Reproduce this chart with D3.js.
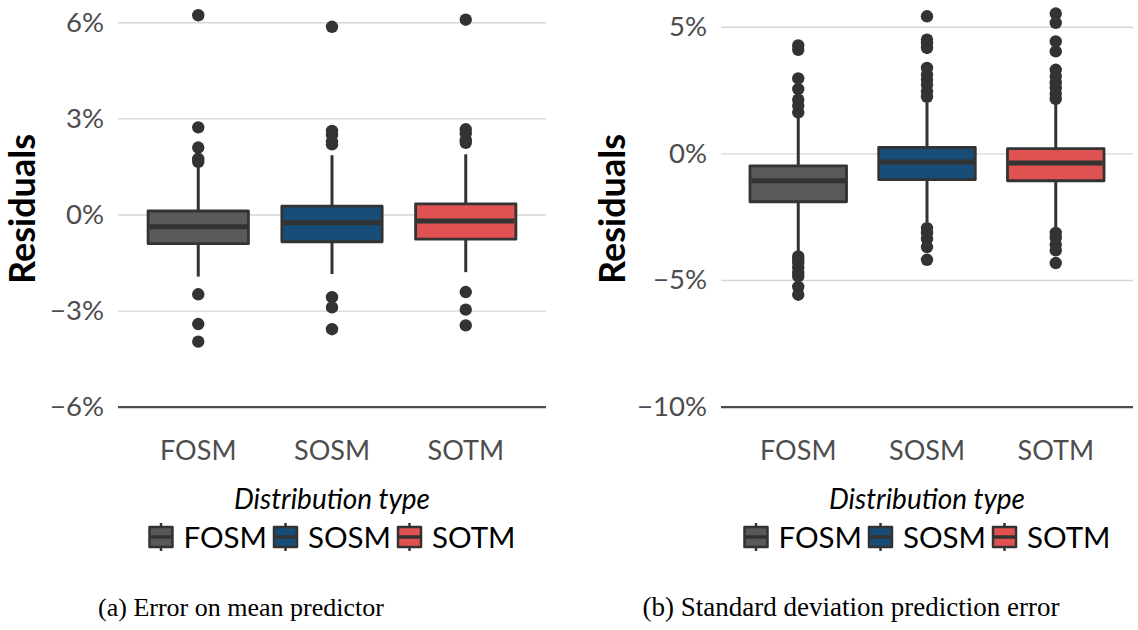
<!DOCTYPE html>
<html>
<head>
<meta charset="utf-8">
<script src="https://cdn.jsdelivr.net/npm/d3@7/dist/d3.min.js"></script>
<style>
  html, body { margin: 0; padding: 0; background: #ffffff; }
  svg { display: block; }
</style>
</head>
<body>
<svg id="chart" width="1138" height="630"></svg>
<script>
// ---------------- DATA ----------------
const categories = ["FOSM", "SOSM", "SOTM"];
const colors = ["#595959", "#174d76", "#e05252"];

// Panel (a): Error on mean predictor (residuals, %)
const ticksA = [-6, -3, 0, 3, 6];
const whiskerLowA  = [-1.94, -1.86, -1.80];
const q1A          = [-0.91, -0.85, -0.77];
const medianA      = [-0.38, -0.26, -0.20];
const q3A          = [0.11, 0.26, 0.33];
const whiskerHighA = [1.46, 1.85, 1.88];
const outliersA = [
  [6.22, 2.72, 2.09, 1.74, 1.64, -2.49, -3.42, -3.97],
  [5.86, 2.61, 2.48, 2.27, 2.19, -2.58, -2.90, -3.58],
  [6.08, 2.66, 2.53, 2.32, 2.24, -2.42, -2.97, -3.46]
];

// Panel (b): Standard deviation prediction error (residuals, %)
const ticksB = [-10, -5, 0, 5];
const whiskerLowB  = [-3.93, -2.72, -3.01];
const q1B          = [-1.91, -1.04, -1.08];
const medianB      = [-1.08, -0.34, -0.38];
const q3B          = [-0.49, 0.24, 0.19];
const whiskerHighB = [1.40, 1.99, 2.12];
const outliersB = [
  [4.26, 4.09, 2.96, 2.54, 2.12, 1.88, 1.62,
   -4.07, -4.20, -4.33, -4.52, -4.72, -4.86, -5.27, -5.58],
  [5.41, 4.49, 4.36, 4.16, 3.37, 3.11, 2.91, 2.71, 2.45, 2.23,
   -2.95, -3.14, -3.38, -3.70, -4.20],
  [5.52, 5.15, 4.42, 4.03, 3.30, 3.04, 2.80, 2.58, 2.36, 2.15,
   -3.14, -3.34, -3.60, -3.83, -4.33]
];

const captionA = "(a) Error on mean predictor";
const captionB = "(b) Standard deviation prediction error";

// ---------------- DRAW ----------------
const svg = d3.select("#chart");
svg.append("rect").attr("width", 1138).attr("height", 630).attr("fill", "#ffffff");

const FONT = "Lato, 'Open Sans', sans-serif";
const DARK = "#333333";
const fmt = v => (v < 0 ? "\u2212" + Math.abs(v) : "" + v) + "%";

function panel(opts) {
  const g = svg.append("g");
  const x = d3.scaleBand().domain(categories)
    .range([opts.x0, opts.x1]).paddingInner(0.25).paddingOuter(0.225);
  const y = d3.scaleLinear().domain(opts.domain).range(opts.yRange);
  const bw = x.bandwidth();
  const cx = c => x(c) + bw / 2;

  // gridlines + bottom axis line
  const yAxis = d3.axisLeft(y).tickValues(opts.ticks).tickFormat(fmt)
    .tickSize(-(opts.x1 - opts.x0)).tickPadding(14);
  const ga = g.append("g").attr("transform", `translate(${opts.x0},0)`).call(yAxis);
  ga.select(".domain").remove();
  ga.selectAll(".tick line")
    .attr("stroke", (d, i) => d === opts.domain[0] ? "#4d4d4d" : "#d6d6d6")
    .attr("stroke-width", (d) => d === opts.domain[0] ? 2.2 : 1.4);
  ga.selectAll(".tick text")
    .attr("font-family", FONT).attr("font-size", 27.5).attr("fill", "#4d4d4d")
    .attr("dx", 0);

  // x axis labels
  const xAxis = d3.axisBottom(x).tickSize(0).tickPadding(0);
  const gx = g.append("g").attr("transform", `translate(0,${opts.xLabelY})`).call(xAxis);
  gx.select(".domain").remove();
  gx.selectAll(".tick text")
    .attr("font-family", FONT).attr("font-size", 27).attr("fill", "#4d4d4d")
    .attr("dy", 0);

  // whiskers
  g.selectAll(".whisker").data(categories).join("line")
    .attr("x1", cx).attr("x2", cx)
    .attr("y1", (c, i) => y(opts.whiskerHigh[i]))
    .attr("y2", (c, i) => y(opts.whiskerLow[i]))
    .attr("stroke", DARK).attr("stroke-width", 3);

  // boxes
  g.selectAll(".box").data(categories).join("rect")
    .attr("x", c => x(c)).attr("width", bw)
    .attr("y", (c, i) => y(opts.q3[i]))
    .attr("height", (c, i) => y(opts.q1[i]) - y(opts.q3[i]))
    .attr("fill", (c, i) => colors[i])
    .attr("stroke", DARK).attr("stroke-width", 2.8).attr("stroke-linejoin", "round");

  // medians
  g.selectAll(".median").data(categories).join("line")
    .attr("x1", c => x(c) + 1.4).attr("x2", c => x(c) + bw - 1.4)
    .attr("y1", (c, i) => y(opts.median[i]))
    .attr("y2", (c, i) => y(opts.median[i]))
    .attr("stroke", DARK).attr("stroke-width", 5);

  // outliers
  const pts = [];
  categories.forEach((c, i) => opts.outliers[i].forEach(v => pts.push({ c, v })));
  g.selectAll(".outlier").data(pts).join("circle")
    .attr("cx", d => cx(d.c)).attr("cy", d => y(d.v)).attr("r", 6.2)
    .attr("fill", DARK);

  // y title
  g.append("text")
    .attr("transform", `translate(${opts.titleX},${opts.titleY}) rotate(-90)`)
    .attr("text-anchor", "middle")
    .attr("font-family", FONT).attr("font-weight", "bold").attr("font-size", 36)
    .attr("fill", "#000").text("Residuals");

  // legend title
  const midX = (opts.x0 + opts.x1) / 2;
  g.append("text").attr("x", midX).attr("y", opts.legendTitleY)
    .attr("text-anchor", "middle").attr("font-family", FONT)
    .attr("font-style", "italic").attr("font-size", 28).attr("fill", "#000")
    .text("Distribution type");

  // legend items
  const lg = g.append("g");
  const keyW = 25, keyH = 20, gapKT = 10, gapItem = 6;
  let cursor = 0;
  categories.forEach((c, i) => {
    const it = lg.append("g").attr("transform", `translate(${cursor},0)`);
    const kx = keyW / 2;
    it.append("line").attr("x1", kx).attr("x2", kx)
      .attr("y1", -keyH / 2 - 4).attr("y2", keyH / 2 + 4)
      .attr("stroke", DARK).attr("stroke-width", 2.5);
    it.append("rect").attr("x", 1).attr("y", -keyH / 2)
      .attr("width", keyW - 2).attr("height", keyH)
      .attr("fill", colors[i]).attr("stroke", DARK).attr("stroke-width", 2.5)
      .attr("stroke-linejoin", "round");
    it.append("line").attr("x1", 2).attr("x2", keyW - 2)
      .attr("y1", 0).attr("y2", 0).attr("stroke", DARK).attr("stroke-width", 3.5);
    const t = it.append("text").attr("x", keyW + gapKT).attr("y", 11)
      .attr("font-family", FONT).attr("font-size", 29.5).attr("fill", "#000").text(c);
    const tw = t.node().getComputedTextLength();
    cursor += keyW + gapKT + tw + gapItem;
  });
  const totalW = cursor - gapItem;
  lg.attr("transform", `translate(${midX - totalW / 2},${opts.legendY})`);

  // caption
  svg.append("text").attr("x", opts.captionX).attr("y", 616)
    .attr("text-anchor", "middle")
    .attr("font-family", "'Liberation Serif', 'Times New Roman', serif")
    .attr("font-size", opts.captionSize).attr("fill", "#000").text(opts.caption);
}

panel({
  x0: 118, x1: 546, domain: [-6, 6], yRange: [406.7, 22.3], ticks: ticksA,
  whiskerLow: whiskerLowA, q1: q1A, median: medianA, q3: q3A, whiskerHigh: whiskerHighA,
  outliers: outliersA, xLabelY: 460, titleX: 35, titleY: 209,
  legendTitleY: 509, legendY: 537, caption: captionA, captionX: 241, captionSize: 26
});
panel({
  x0: 721, x1: 1133, domain: [-10, 5], yRange: [406.7, 26.7], ticks: ticksB,
  whiskerLow: whiskerLowB, q1: q1B, median: medianB, q3: q3B, whiskerHigh: whiskerHighB,
  outliers: outliersB, xLabelY: 460, titleX: 625, titleY: 209,
  legendTitleY: 509, legendY: 537, caption: captionB, captionX: 851, captionSize: 27
});
</script>
</body>
</html>
